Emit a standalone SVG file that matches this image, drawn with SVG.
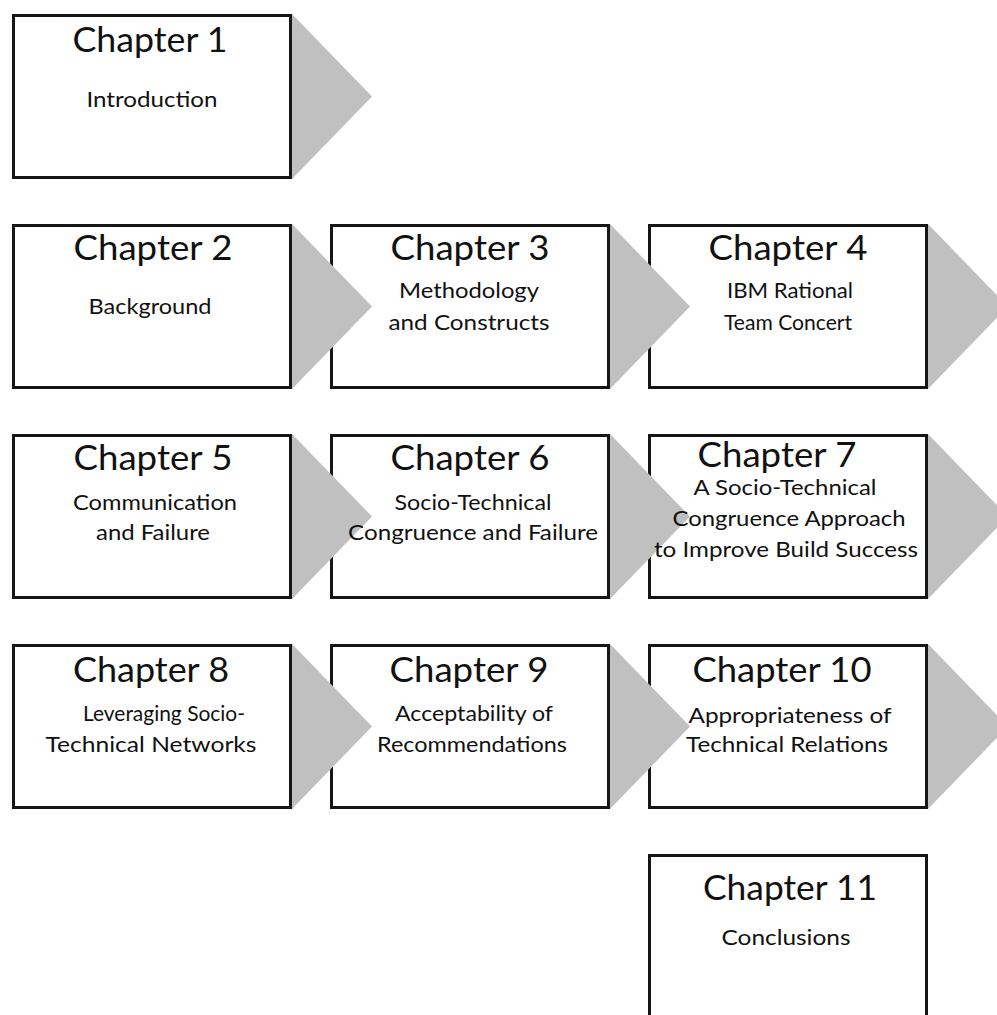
<svg xmlns="http://www.w3.org/2000/svg" width="997" height="1015" viewBox="0 0 997 1015">
  <style>
    .box { fill: #ffffff; stroke: #161616; stroke-width: 3; }
    .arrow { fill: #c0c0c0; stroke: none; }
    text { font-family: Lato, "Liberation Sans", sans-serif; fill: #111111; text-anchor: middle; }
    .title { font-size: 34px; }
    .sub { font-size: 21px; }
  </style>
  <rect width="997" height="1015" fill="#ffffff"/>

  <!-- chapter boxes -->
  <g id="boxes">
    <g id="ch1"><rect class="box" x="13.5" y="15.5" width="277" height="162"/></g>
    <g id="ch2"><rect class="box" x="13.5" y="225.5" width="277" height="162"/></g>
    <g id="ch3"><rect class="box" x="331.5" y="225.5" width="277" height="162"/></g>
    <g id="ch4"><rect class="box" x="649.5" y="225.5" width="277" height="162"/></g>
    <g id="ch5"><rect class="box" x="13.5" y="435.5" width="277" height="162"/></g>
    <g id="ch6"><rect class="box" x="331.5" y="435.5" width="277" height="162"/></g>
    <g id="ch7"><rect class="box" x="649.5" y="435.5" width="277" height="162"/></g>
    <g id="ch8"><rect class="box" x="13.5" y="645.5" width="277" height="162"/></g>
    <g id="ch9"><rect class="box" x="331.5" y="645.5" width="277" height="162"/></g>
    <g id="ch10"><rect class="box" x="649.5" y="645.5" width="277" height="162"/></g>
    <g id="ch11"><rect class="box" x="649.5" y="855.5" width="277" height="162"/></g>
  </g>

  <!-- chevron connectors -->
  <g id="connectors">
    <polygon class="arrow" points="292,14 372,96.5 292,179"/>
    <polygon class="arrow" points="292,224 372,306.5 292,389"/>
    <polygon class="arrow" points="610,224 690,306.5 610,389"/>
    <polygon class="arrow" points="928,224 1008,306.5 928,389"/>
    <polygon class="arrow" points="292,434 372,516.5 292,599"/>
    <polygon class="arrow" points="610,434 690,516.5 610,599"/>
    <polygon class="arrow" points="928,434 1008,516.5 928,599"/>
    <polygon class="arrow" points="292,644 372,726.5 292,809"/>
    <polygon class="arrow" points="610,644 690,726.5 610,809"/>
    <polygon class="arrow" points="928,644 1008,726.5 928,809"/>
  </g>

  <!-- chapter labels -->
  <g id="labels">
    <g id="ch1-label">
      <text class="title" x="150" y="52" textLength="155" lengthAdjust="spacingAndGlyphs">Chapter 1</text>
      <text class="sub" x="152" y="107" textLength="131" lengthAdjust="spacingAndGlyphs">Introduction</text>
    </g>
    <g id="ch2-label">
      <text class="title" x="153" y="260" textLength="159" lengthAdjust="spacingAndGlyphs">Chapter 2</text>
      <text class="sub" x="150" y="314" textLength="123" lengthAdjust="spacingAndGlyphs">Background</text>
    </g>
    <g id="ch3-label">
      <text class="title" x="470" y="260" textLength="159" lengthAdjust="spacingAndGlyphs">Chapter 3</text>
      <text class="sub" x="469" y="298" textLength="140" lengthAdjust="spacingAndGlyphs">Methodology</text>
      <text class="sub" x="469" y="330" textLength="161" lengthAdjust="spacingAndGlyphs">and Constructs</text>
    </g>
    <g id="ch4-label">
      <text class="title" x="788" y="260" textLength="159" lengthAdjust="spacingAndGlyphs">Chapter 4</text>
      <text class="sub" x="790" y="298" textLength="126" lengthAdjust="spacingAndGlyphs">IBM Rational</text>
      <text class="sub" x="788" y="330" textLength="128" lengthAdjust="spacingAndGlyphs">Team Concert</text>
    </g>
    <g id="ch5-label">
      <text class="title" x="153" y="470" textLength="159" lengthAdjust="spacingAndGlyphs">Chapter 5</text>
      <text class="sub" x="155" y="510" textLength="164" lengthAdjust="spacingAndGlyphs">Communication</text>
      <text class="sub" x="153" y="540" textLength="114" lengthAdjust="spacingAndGlyphs">and Failure</text>
    </g>
    <g id="ch6-label">
      <text class="title" x="470" y="470" textLength="159" lengthAdjust="spacingAndGlyphs">Chapter 6</text>
      <text class="sub" x="473" y="510" textLength="157" lengthAdjust="spacingAndGlyphs">Socio-Technical</text>
      <text class="sub" x="473" y="540" textLength="250" lengthAdjust="spacingAndGlyphs">Congruence and Failure</text>
    </g>
    <g id="ch7-label">
      <text class="title" x="777" y="467" textLength="159" lengthAdjust="spacingAndGlyphs">Chapter 7</text>
      <text class="sub" x="785" y="495" textLength="183" lengthAdjust="spacingAndGlyphs">A Socio-Technical</text>
      <text class="sub" x="789" y="526" textLength="233" lengthAdjust="spacingAndGlyphs">Congruence Approach</text>
      <text class="sub" x="786" y="557" textLength="264" lengthAdjust="spacingAndGlyphs">to Improve Build Success</text>
    </g>
    <g id="ch8-label">
      <text class="title" x="151" y="682" textLength="156" lengthAdjust="spacingAndGlyphs">Chapter 8</text>
      <text class="sub" x="164" y="721" textLength="162" lengthAdjust="spacingAndGlyphs">Leveraging Socio-</text>
      <text class="sub" x="151" y="752" textLength="211" lengthAdjust="spacingAndGlyphs">Technical Networks</text>
    </g>
    <g id="ch9-label">
      <text class="title" x="469" y="682" textLength="159" lengthAdjust="spacingAndGlyphs">Chapter 9</text>
      <text class="sub" x="474" y="721" textLength="158" lengthAdjust="spacingAndGlyphs">Acceptability of</text>
      <text class="sub" x="472" y="752" textLength="190" lengthAdjust="spacingAndGlyphs">Recommendations</text>
    </g>
    <g id="ch10-label">
      <text class="title" x="782" y="682" textLength="179" lengthAdjust="spacingAndGlyphs">Chapter 10</text>
      <text class="sub" x="790" y="723" textLength="203" lengthAdjust="spacingAndGlyphs">Appropriateness of</text>
      <text class="sub" x="787" y="752" textLength="202" lengthAdjust="spacingAndGlyphs">Technical Relations</text>
    </g>
    <g id="ch11-label">
      <text class="title" x="790" y="900" textLength="174" lengthAdjust="spacingAndGlyphs">Chapter 11</text>
      <text class="sub" x="786" y="945" textLength="129" lengthAdjust="spacingAndGlyphs">Conclusions</text>
    </g>
  </g>
</svg>
